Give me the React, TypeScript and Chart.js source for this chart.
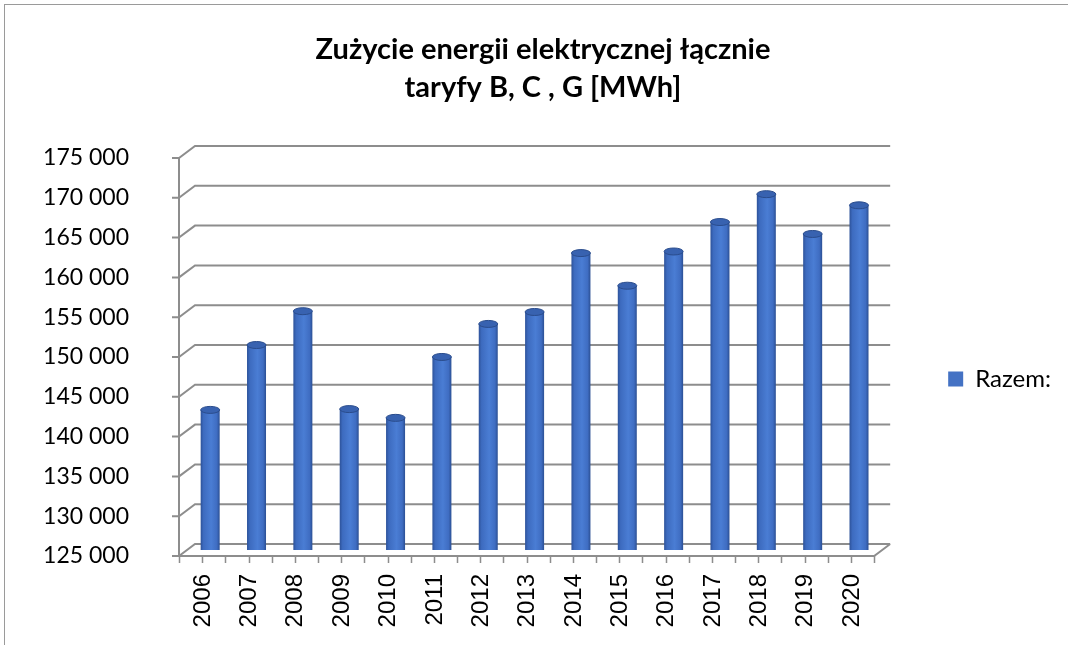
import { useEffect, useRef } from 'react';
import { Chart, registerables } from 'chart.js';

Chart.register(...registerables);

// ---- data ----
const years = ['2006', '2007', '2008', '2009', '2010', '2011', '2012', '2013', '2014', '2015', '2016', '2017', '2018', '2019', '2020'];
const razem = [142600, 150750, 155000, 142700, 141600, 149250, 153400, 154900, 162300, 158200, 162500, 166200, 169700, 164700, 168300];
const seriesName = 'Razem:';
const titleLines = ['Zużycie energii elektrycznej łącznie', 'taryfy B, C , G [MWh]'];
const yMin = 125000;
const yMax = 175000;
const yStep = 5000;

const fmt = (v: number) => String(v).replace(/\B(?=(\d{3})+(?!\d))/g, ' ');

const DX = 8;
const DY = 6;
const BAR_FRACTION = 0.41;
const PAD_LEFT = 25;

const frame3d = {
  id: 'frame3d',
  beforeDatasetsDraw(chart: any) {
    const { ctx, chartArea, scales } = chart;
    const { left, right, top, bottom } = chartArea;
    const y = scales.y;
    ctx.save();
    ctx.strokeStyle = '#8d8d8d';
    ctx.lineWidth = 2;
    ctx.lineCap = 'butt';
    ctx.beginPath();
    y.ticks.forEach((t: any) => {
      const py = y.getPixelForValue(t.value);
      ctx.moveTo(left - DX - 7, py + DY);
      ctx.lineTo(left - DX, py + DY);
      ctx.lineTo(left + DX, py - DY);
      ctx.lineTo(right + DX, py - DY);
    });
    ctx.moveTo(left - DX, top + DY);
    ctx.lineTo(left - DX, bottom + DY);
    ctx.lineTo(right - DX, bottom + DY);
    ctx.lineTo(right + DX, bottom - DY);
    ctx.stroke();
    ctx.beginPath();
    ctx.lineWidth = 1.5;
    const n = years.length;
    const catW = (right - left) / n;
    for (let k = 0; k <= 2 * n; k++) {
      const px = Math.round(left - DX + (k * catW) / 2) + 0.5;
      ctx.moveTo(px, bottom + DY);
      ctx.lineTo(px, bottom + DY + 7);
    }
    ctx.stroke();
    ctx.restore();
  },
  afterDatasetsDraw(chart: any) {
    const { ctx } = chart;
    const meta = chart.getDatasetMeta(0);
    ctx.save();
    meta.data.forEach((el: any) => {
      const rx = el.width / 2;
      const ry = 3.5;
      const gb = ctx.createLinearGradient(el.x - rx, 0, el.x + rx, 0);
      gb.addColorStop(0, '#2d5299');
      gb.addColorStop(0.5, '#4a7dd4');
      gb.addColorStop(1, '#2b4f93');
      ctx.fillStyle = gb;
      ctx.beginPath();
      ctx.ellipse(el.x, el.base, rx, ry, 0, 0, Math.PI);
      ctx.fill();
      ctx.fillStyle = '#3862b0';
      ctx.strokeStyle = '#2a4c8c';
      ctx.lineWidth = 1;
      ctx.beginPath();
      ctx.ellipse(el.x, el.y, rx, ry, 0, 0, Math.PI * 2);
      ctx.fill();
      ctx.stroke();
    });
    ctx.restore();
  },
};

export default function App() {
  const ref = useRef<HTMLCanvasElement | null>(null);

  useEffect(() => {
    if (!ref.current) return;
    const chart = new Chart(ref.current, {
      type: 'bar',
      data: {
        labels: years,
        datasets: [
          {
            label: seriesName,
            data: razem,
            backgroundColor: (c: any) => {
              const ch = c.chart;
              if (!ch.chartArea || c.dataIndex == null || !ch.scales.x) return '#4472c4';
              const xs = ch.scales.x;
              const cx = xs.getPixelForValue(c.dataIndex);
              const w = (xs.width / years.length) * BAR_FRACTION;
              const g = ch.ctx.createLinearGradient(cx - w / 2, 0, cx + w / 2, 0);
              g.addColorStop(0, '#2d5299');
              g.addColorStop(0.15, '#3d6bbf');
              g.addColorStop(0.55, '#4a7dd4');
              g.addColorStop(0.85, '#3f6dc2');
              g.addColorStop(1, '#2b4f93');
              return g;
            },
            borderWidth: 0,
            categoryPercentage: 1,
            barPercentage: BAR_FRACTION,
          },
        ],
      },
      options: {
        responsive: false,
        animation: false,
        devicePixelRatio: 1,
        layout: { padding: { left: PAD_LEFT, right: 7, top: 0, bottom: 0 } },
        plugins: {
          title: {
            display: true,
            text: titleLines,
            color: '#000',
            font: { family: 'Lato', size: 29, weight: 'bold', lineHeight: 1.31 },
            padding: { top: 31, bottom: 45 },
          },
          legend: {
            display: true,
            position: 'right',
            align: 'center',
            fullSize: false,
            title: { display: true, text: '', padding: 16, font: { size: 20, lineHeight: 1.2 } },
            labels: {
              boxWidth: 15,
              boxHeight: 15,
              padding: 66,
              color: '#000',
              font: { family: 'Lato', size: 24 },
              generateLabels: (ch: any) =>
                Chart.defaults.plugins.legend.labels.generateLabels(ch).map((l: any) => ({
                  ...l,
                  fillStyle: '#4472c4',
                  strokeStyle: '#4472c4',
                  lineWidth: 0,
                })),
            },
          },
          tooltip: { enabled: false },
        },
        scales: {
          x: {
            type: 'category',
            offset: true,
            grid: { display: false, drawTicks: false },
            border: { display: false },
            ticks: {
              autoSkip: false,
              minRotation: 90,
              maxRotation: 90,
              padding: 24,
              labelOffset: -7,
              color: '#000',
              font: { family: "'Liberation Sans Narrow', 'Liberation Sans', sans-serif", size: 24 },
            },
            afterFit: (s: any) => {
              s.height = 95;
            },
          },
          y: {
            min: yMin,
            max: yMax,
            grid: { display: false, drawTicks: false },
            border: { display: false },
            ticks: {
              stepSize: yStep,
              padding: 58,
              labelOffset: 6,
              color: '#000',
              font: { family: 'Lato', size: 23 },
              callback: (v: any) => fmt(Number(v)),
            },
            afterFit: (s: any) => {
              s.width = 187 - PAD_LEFT;
            },
          },
        },
      },
      plugins: [frame3d],
    });
    return () => chart.destroy();
  }, []);

  return (
    <div style={{ position: 'absolute', left: 0, top: 0, width: 1068, height: 645, background: '#fff', overflow: 'hidden' }}>
      <canvas ref={ref} width={1068} height={645} style={{ display: 'block' }} />
      <div
        style={{
          position: 'absolute',
          left: 4,
          top: 4,
          width: 1100,
          height: 700,
          borderTop: '1px solid #9a9a9a',
          borderLeft: '1px solid #9a9a9a',
          pointerEvents: 'none',
        }}
      />
    </div>
  );
}
